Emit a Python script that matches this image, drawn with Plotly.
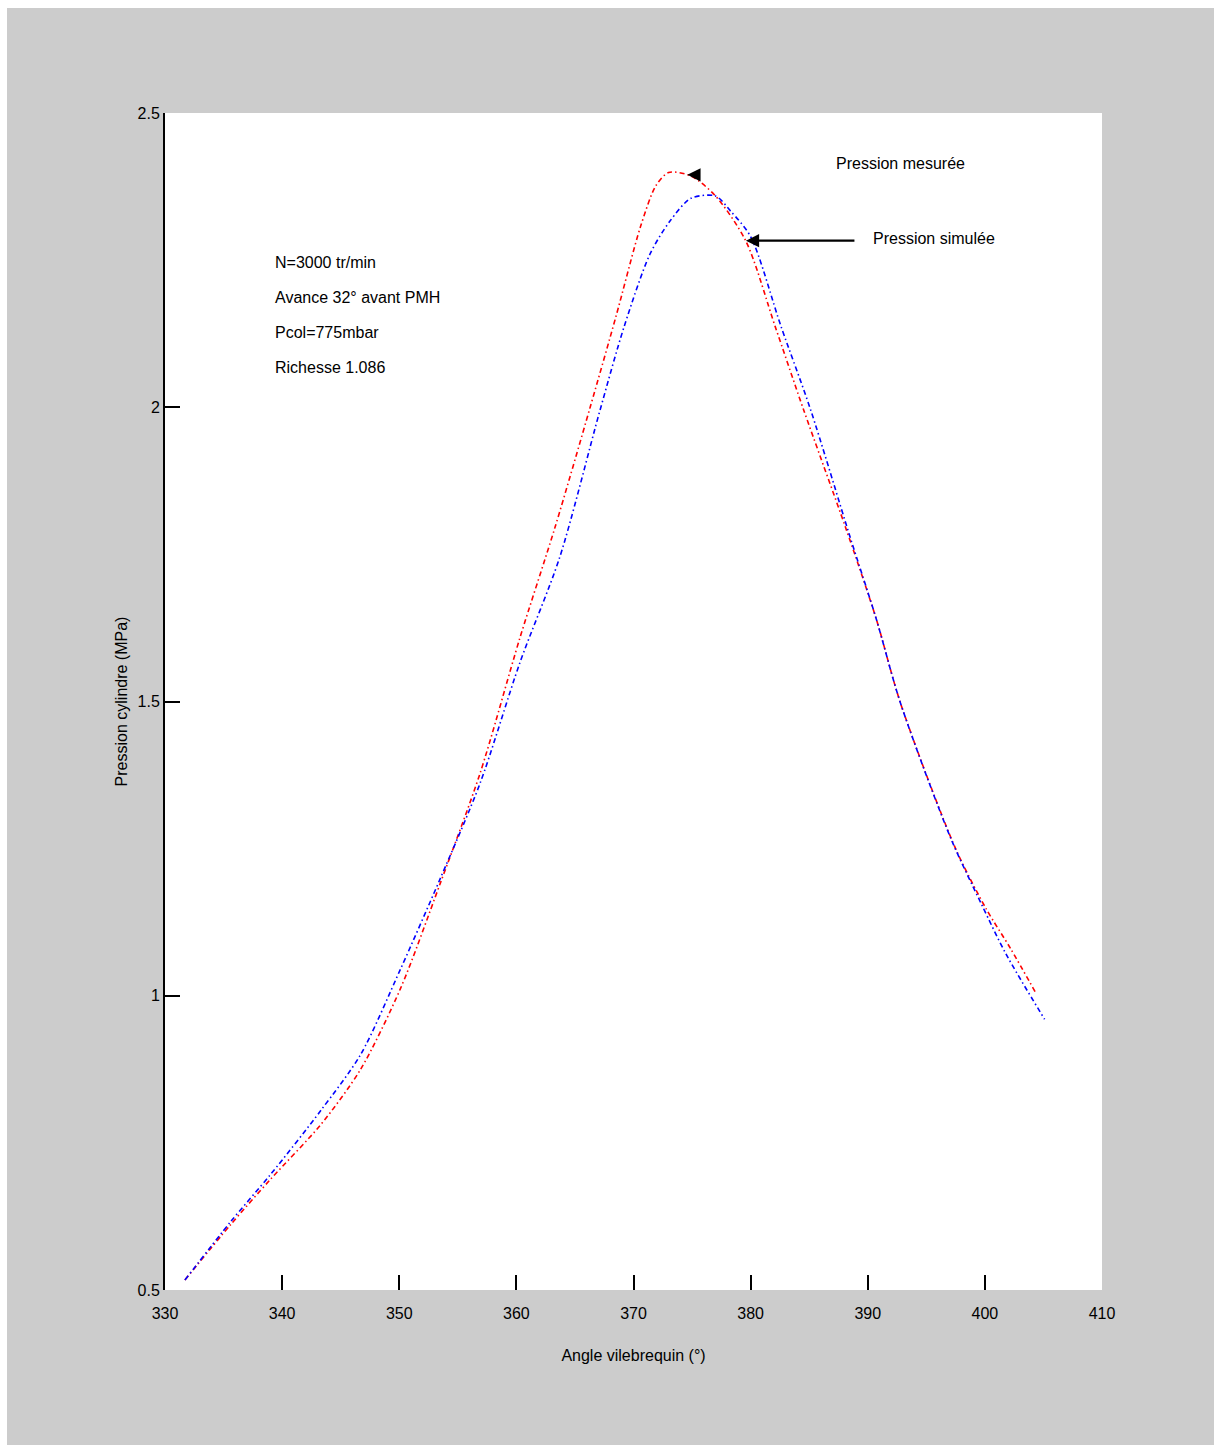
import plotly.graph_objects as go

# Crank angle (deg) and cylinder pressure (MPa)
angle_mesuree = [331.7, 335.6, 339.0, 343.3, 346.7, 350.1, 353.5, 356.9, 360.3, 363.3,
                 366.3, 368.5, 370.6, 371.9, 373.0, 374.9, 377.0, 379.6, 382.1, 384.5,
                 388.1, 390.7, 392.8, 397.5, 400.1, 402.2, 404.4]
pression_mesuree = [0.517, 0.611, 0.688, 0.781, 0.875, 1.012, 1.191, 1.378, 1.608, 1.796,
                    2.000, 2.154, 2.307, 2.376, 2.399, 2.393, 2.359, 2.282, 2.137, 1.997,
                    1.796, 1.642, 1.497, 1.250, 1.148, 1.080, 1.003]

angle_simulee = [331.7, 335.6, 339.0, 343.3, 346.7, 350.1, 353.5, 356.9, 360.3, 363.7,
                 367.1, 369.2, 371.4, 373.1, 374.9, 377.0, 378.3, 380.0, 382.6, 385.1,
                 388.5, 390.7, 392.8, 397.1, 399.7, 401.8, 405.1]
pression_simulee = [0.517, 0.616, 0.696, 0.805, 0.900, 1.045, 1.199, 1.361, 1.566, 1.745,
                    1.992, 2.137, 2.260, 2.316, 2.355, 2.359, 2.333, 2.290, 2.137, 1.997,
                    1.779, 1.642, 1.497, 1.267, 1.156, 1.071, 0.960]

x_ticks = [330, 340, 350, 360, 370, 380, 390, 400, 410]
y_ticks = [0.5, 1, 1.5, 2, 2.5]
y_tick_labels = ["0.5", "1", "1.5", "2", "2.5"]

conditions = ["N=3000 tr/min", "Avance 32° avant PMH", "Pcol=775mbar", "Richesse 1.086"]

FONT = "Liberation Sans, Arial, sans-serif"
DASH = "5px,3px,1.5px,3px"

fig = go.Figure()
fig.add_trace(go.Scatter(x=angle_mesuree, y=pression_mesuree, mode="lines",
                         line=dict(color="#ff0000", width=1.6, dash=DASH, shape="spline",
                                   smoothing=0.8),
                         name="Pression mesurée"))
fig.add_trace(go.Scatter(x=angle_simulee, y=pression_simulee, mode="lines",
                         line=dict(color="#0000ff", width=1.6, dash=DASH, shape="spline",
                                   smoothing=0.8),
                         name="Pression simulée"))

# Operating conditions block
for i, txt in enumerate(conditions):
    fig.add_annotation(x=0.115, y=0.873 - i * 0.0298, xref="paper", yref="paper",
                       text=txt, showarrow=False, xanchor="left", yanchor="middle",
                       font=dict(size=16, color="black", family=FONT))

# Curve labels
fig.add_annotation(x=0.714, y=0.957, xref="paper", yref="paper", text="Pression mesurée",
                   showarrow=False, xanchor="left", yanchor="middle",
                   font=dict(size=16, color="black", family=FONT))
fig.add_annotation(x=0.753, y=0.893, xref="paper", yref="paper", text="Pression simulée",
                   showarrow=False, xanchor="left", yanchor="middle",
                   font=dict(size=16, color="black", family=FONT))

# Arrows pointing at each curve
fig.add_annotation(x=379.6, y=2.283, ax=110, ay=0, text="", showarrow=True,
                   arrowhead=2, arrowsize=1.2, arrowwidth=2.2, arrowcolor="black")
fig.add_annotation(x=374.6, y=2.395, ax=8, ay=0, text="", showarrow=True,
                   arrowhead=2, arrowsize=1.2, arrowwidth=2.2, arrowcolor="black")

# Thin white page border on top and left
fig.add_shape(type="rect", xref="paper", yref="paper", x0=-0.2, x1=1.2,
              y0=(1290 - 8) / 1177, y1=1.2, fillcolor="white", line=dict(width=0),
              layer="below")
fig.add_shape(type="rect", xref="paper", yref="paper", x0=-0.2, x1=(7 - 165) / 937,
              y0=-0.2, y1=1.2, fillcolor="white", line=dict(width=0), layer="below")

fig.update_layout(
    width=1214, height=1445,
    margin=dict(l=165, r=112, t=113, b=155),
    paper_bgcolor="#cccccc", plot_bgcolor="white",
    showlegend=False,
    font=dict(family=FONT, size=16, color="black"),
    xaxis=dict(range=[330, 410], tickvals=x_ticks, ticktext=[str(v) for v in x_ticks],
               ticks="inside", ticklen=15, tickwidth=2, tickcolor="black",
               ticklabelstandoff=12,
               showgrid=False, zeroline=False, showline=False,
               title=dict(text="Angle vilebrequin (°)", standoff=28,
                          font=dict(size=16, family=FONT)),
               tickfont=dict(size=16, family=FONT)),
    yaxis=dict(range=[0.5, 2.5], tickvals=y_ticks, ticktext=y_tick_labels,
               ticks="inside", ticklen=15, tickwidth=2, tickcolor="black",
               showgrid=False, zeroline=False, showline=True, linecolor="black", linewidth=2,
               title=dict(text="Pression cylindre (MPa)", standoff=6,
                          font=dict(size=16, family=FONT)),
               tickfont=dict(size=16, family=FONT)),
)

fig.write_html("out.html")
